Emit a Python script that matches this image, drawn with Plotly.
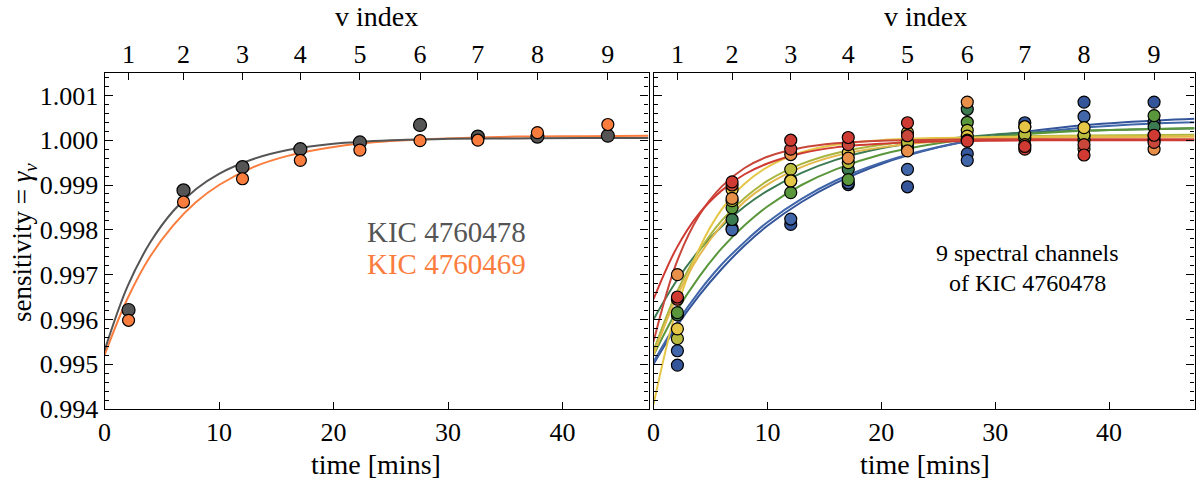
import plotly.graph_objects as go

# ---------------- data ----------------
v_index_labels = ["1", "2", "3", "4", "5", "6", "7", "8", "9"]
obs_times = [2.1, 6.9, 12.05, 17.1, 22.3, 27.55, 32.6, 37.8, 43.95]

# left panel: two stars
kic478_pts = [0.99621, 0.99888, 0.99940, 0.99980, 0.99995, 1.00034, 1.00008, 1.00008, 1.00010]
kic469_pts = [0.99598, 0.99862, 0.99914, 0.99955, 0.99978, 0.99999, 1.00000, 1.00017, 1.00035]

curve_times = [0, 2, 4, 6, 8, 10, 13, 16, 20, 25, 30, 36, 42, 47.5]
kic478_fit = [0.99530, 0.99673, 0.99772, 0.99842, 0.99891, 0.99925, 0.99958, 0.99978, 0.99992, 1.00000, 1.00003, 1.00004, 1.00005, 1.00005]
kic469_fit = [0.99520, 0.99646, 0.99741, 0.99810, 0.99862, 0.99900, 0.99940, 0.99965, 0.99985, 0.99998, 1.00004, 1.00008, 1.00009, 1.00010]

# right panel: 9 spectral channels of KIC 4760478
ch1_pts = [0.99498, 0.99803, 0.99812, 0.99901, 0.99896, 0.99970, 1.00039, 1.00085, 1.00085]
ch2_pts = [0.99530, 0.99800, 0.99824, 0.99905, 0.99935, 0.99955, 1.00030, 1.00053, 1.00040]
ch3_pts = [0.99610, 0.99823, 0.99910, 0.99935, 0.99990, 1.00069, 1.00010, 1.00010, 1.00030]
ch4_pts = [0.99615, 0.99849, 0.99883, 0.99912, 0.99980, 1.00040, 1.00005, 1.00000, 1.00055]
ch5_pts = [0.99557, 0.99865, 0.99935, 0.99950, 0.99995, 1.00022, 1.00013, 1.00012, 1.00010]
ch6_pts = [0.99579, 0.99890, 0.99909, 0.99972, 1.00017, 1.00009, 1.00030, 1.00028, 1.00000]
ch7_pts = [0.99700, 0.99870, 0.99968, 0.99960, 0.99976, 1.00085, 0.99990, 0.99981, 0.99980]
ch8_pts = [0.99645, 0.99900, 0.99980, 0.99990, 1.00010, 1.00000, 0.99980, 0.99990, 0.99995]
ch9_pts = [0.99650, 0.99907, 1.00000, 1.00006, 1.00039, 0.99998, 0.99986, 0.99967, 1.00011]

ch1_fit = [0.99500, 0.99583, 0.99653, 0.99713, 0.99765, 0.99809, 0.99862, 0.99904, 0.99947, 0.99984, 1.00009, 1.00029, 1.00041, 1.00048]
ch2_fit = [0.99505, 0.99590, 0.99662, 0.99723, 0.99773, 0.99817, 0.99869, 0.99910, 0.99950, 0.99985, 1.00007, 1.00024, 1.00035, 1.00040]
ch3_fit = [0.99600, 0.99685, 0.99754, 0.99808, 0.99852, 0.99887, 0.99927, 0.99956, 0.99982, 1.00001, 1.00013, 1.00020, 1.00024, 1.00026]
ch4_fit = [0.99520, 0.99617, 0.99695, 0.99759, 0.99810, 0.99852, 0.99900, 0.99935, 0.99968, 0.99993, 1.00008, 1.00019, 1.00024, 1.00027]
ch5_fit = [0.99530, 0.99658, 0.99752, 0.99821, 0.99871, 0.99909, 0.99947, 0.99971, 0.99990, 1.00002, 1.00007, 1.00010, 1.00011, 1.00012]
ch6_fit = [0.99410, 0.99621, 0.99757, 0.99846, 0.99903, 0.99940, 0.99973, 0.99990, 1.00000, 1.00005, 1.00007, 1.00008, 1.00008, 1.00008]
ch7_fit = [0.99520, 0.99648, 0.99742, 0.99811, 0.99863, 0.99901, 0.99940, 0.99965, 0.99984, 0.99997, 1.00003, 1.00006, 1.00007, 1.00008]
ch8_fit = [0.99550, 0.99725, 0.99832, 0.99897, 0.99938, 0.99963, 0.99983, 0.99993, 0.99999, 1.00001, 1.00002, 1.00002, 1.00002, 1.00002]
ch9_fit = [0.99645, 0.99758, 0.99836, 0.99888, 0.99924, 0.99948, 0.99971, 0.99984, 0.99992, 0.99997, 0.99999, 1.00000, 1.00000, 1.00000]

channel_pts = [ch1_pts, ch2_pts, ch3_pts, ch4_pts, ch5_pts, ch6_pts, ch7_pts, ch8_pts, ch9_pts]
channel_fit = [ch1_fit, ch2_fit, ch3_fit, ch4_fit, ch5_fit, ch6_fit, ch7_fit, ch8_fit, ch9_fit]
channel_colors = ["#34559a", "#4167aa", "#3c7a52", "#5a963c", "#a9b53c",
                  "#e5c646", "#e4b84a", "#c9463a", "#cf3b33"]
channel_pt_colors = ["#34559a", "#4167aa", "#3c7a52", "#5a963c", "#b8bb3e",
                     "#e5c646", "#e8904a", "#c9463a", "#cf3b33"]

GRAY = "#555555"
ORANGE = "#fb7d3e"
FONT = "Liberation Serif"

fig = go.Figure()

# ---- left panel ----
fig.add_trace(go.Scatter(x=curve_times, y=kic469_fit, mode="lines", line=dict(color=ORANGE, width=2, shape="spline"),
                         xaxis="x", yaxis="y", showlegend=False, hoverinfo="skip"))
fig.add_trace(go.Scatter(x=curve_times, y=kic478_fit, mode="lines", line=dict(color=GRAY, width=2, shape="spline"),
                         xaxis="x", yaxis="y", showlegend=False, hoverinfo="skip"))
fig.add_trace(go.Scatter(x=obs_times, y=kic478_pts, mode="markers",
                         marker=dict(color=GRAY, size=13, line=dict(color="black", width=1.2)),
                         xaxis="x", yaxis="y", showlegend=False))
fig.add_trace(go.Scatter(x=obs_times, y=kic469_pts, mode="markers",
                         marker=dict(color=ORANGE, size=12, line=dict(color="black", width=1.2)),
                         xaxis="x", yaxis="y", showlegend=False))

# ---- right panel ----
for fit, col in zip(channel_fit, channel_colors):
    fig.add_trace(go.Scatter(x=curve_times, y=fit, mode="lines", line=dict(color=col, width=2, shape="spline"),
                             xaxis="x2", yaxis="y2", showlegend=False, hoverinfo="skip"))
for pts, col in zip(channel_pts, channel_pt_colors):
    fig.add_trace(go.Scatter(x=obs_times, y=pts, mode="markers",
                             marker=dict(color=col, size=12, line=dict(color="black", width=1.2)),
                             xaxis="x2", yaxis="y2", showlegend=False))

# empty traces so the top (v index) axes render
fig.add_trace(go.Scatter(x=[0], y=[None], xaxis="x3", yaxis="y", showlegend=False, hoverinfo="skip"))
fig.add_trace(go.Scatter(x=[0], y=[None], xaxis="x4", yaxis="y2", showlegend=False, hoverinfo="skip"))

# ---- layout ----
W, H = 1196, 481
ydom = [1 - 409 / H, 1 - 73 / H]
xdom1 = [104.5 / W, 648.5 / W]
xdom2 = [653.5 / W, 1194.5 / W]
yrange = [0.994, 1.0015]
xrange_ = [0, 47.5]
tickfont = dict(family=FONT, size=26, color="black")

common_x = dict(range=xrange_, tickvals=[0, 10, 20, 30, 40], ticks="inside", ticklen=7, tickcolor="black",
                showline=True, linecolor="black", linewidth=1.2, mirror=True, showgrid=False, zeroline=False,
                tickfont=tickfont, automargin=False)
common_top = dict(range=xrange_, tickvals=obs_times, ticktext=v_index_labels, side="top", ticks="inside",
                  ticklen=7, tickcolor="black", showgrid=False, zeroline=False, showline=False,
                  tickfont=tickfont, automargin=False, ticklabelstandoff=4)
common_y = dict(range=yrange, dtick=0.001, tick0=0.994, tickformat=".3f", ticks="inside", ticklen=8,
                tickcolor="black", showline=True, linecolor="black", linewidth=1.2, mirror="ticks",
                showgrid=False, zeroline=False, tickfont=tickfont, automargin=False,
                minor=dict(dtick=0.0002, tick0=0.994, ticks="inside", ticklen=4, tickcolor="black", showgrid=False))

fig.update_layout(
    width=W, height=H, margin=dict(l=0, r=0, t=0, b=0, autoexpand=False),
    paper_bgcolor="white", plot_bgcolor="white",
    font=dict(family=FONT, color="black"),
    xaxis=dict(domain=xdom1, anchor="y", **common_x),
    xaxis2=dict(domain=xdom2, anchor="y2", **common_x),
    xaxis3=dict(overlaying="x", anchor="y", **common_top),
    xaxis4=dict(overlaying="x2", anchor="y2", **common_top),
    yaxis=dict(domain=ydom, anchor="x", **common_y),
    yaxis2=dict(domain=ydom, anchor="x2", showticklabels=False, **common_y),
)

def px(xp, yp):
    return xp / W, 1 - yp / H

annots = [
    ("v index", 376, 16, 28, "black", 0),
    ("v index", 925, 16, 28, "black", 0),
    ("time [mins]", 376, 464, 28, "black", 0),
    ("time [mins]", 925, 464, 28, "black", 0),
    ("sensitivity = <i>γ</i><sub><i>v</i></sub>", 24, 243, 27, "black", -90),
    ("KIC 4760478", 447, 232, 29, "#555555", 0),
    ("KIC 4760469", 447, 264, 29, ORANGE, 0),
    ("9 spectral channels", 1027, 253, 24, "black", 0),
    ("of KIC 4760478", 1027, 283, 24, "black", 0),
]
for text, xp, yp, size, col, ang in annots:
    x, y = px(xp, yp)
    fig.add_annotation(x=x, y=y, xref="paper", yref="paper", text=text, showarrow=False,
                       font=dict(family=FONT, size=size, color=col), textangle=ang,
                       xanchor="center", yanchor="middle")

fig.write_html("out.html")
